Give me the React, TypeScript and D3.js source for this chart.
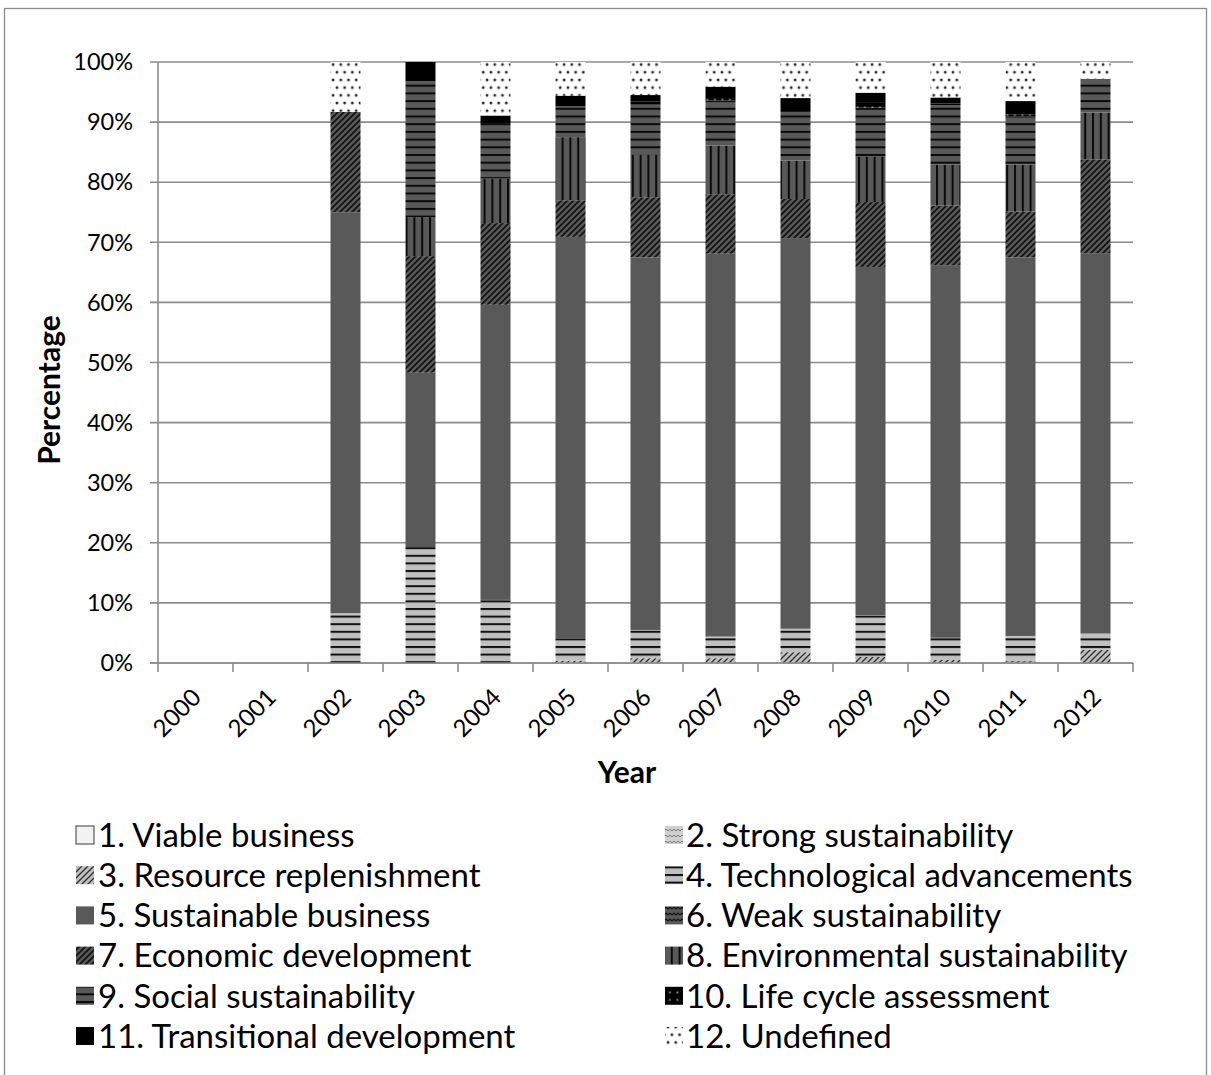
import React, { useEffect } from "react";
import * as d3 from "d3";

// Share of each sustainability definition per year (percent)
const years = ["2000", "2001", "2002", "2003", "2004", "2005", "2006", "2007", "2008", "2009", "2010", "2011", "2012"];

const viableBusiness = [0, 0, 0, 0, 0, 0, 0, 0, 0, 0, 0, 0, 0];
const strongSustainability = [0, 0, 0, 0, 0, 0, 0, 0, 0, 0, 0, 0, 0];
const resourceReplenishment = [0, 0, 0, 0, 0, 0.4, 0.8, 0.8, 1.8, 1.0, 0.5, 0.3, 2.2];
const technologicalAdvancements = [0, 0, 8.3, 19.3, 10.5, 3.6, 4.7, 3.6, 3.9, 6.9, 3.7, 4.2, 2.7];
const sustainableBusiness = [0, 0, 66.7, 29.0, 49.1, 66.9, 62.0, 63.7, 65.0, 58.0, 62.0, 63.0, 63.3];
const weakSustainability = [0, 0, 0, 0, 0, 0, 0, 0, 0, 0, 0, 0, 0];
const economicDevelopment = [0, 0, 16.7, 19.4, 13.6, 6.1, 10.0, 9.9, 6.5, 10.8, 9.9, 7.6, 15.6];
const environmentalSustainability = [0, 0, 0, 6.5, 7.4, 10.5, 7.1, 8.1, 6.4, 7.5, 6.8, 7.8, 7.8];
const socialSustainability = [0, 0, 0, 22.6, 9.1, 5.1, 8.3, 7.5, 8.1, 8.2, 9.9, 8.0, 5.6];
const lifeCycleAssessment = [0, 0, 0, 0, 0, 0, 0.5, 0.4, 0, 0.8, 0.3, 0.4, 0];
const transitionalDevelopment = [0, 0, 0, 3.2, 1.4, 1.8, 1.1, 1.9, 2.3, 1.7, 1.0, 2.2, 0];
const undefinedDefinition = [0, 0, 8.3, 0, 8.9, 5.6, 5.5, 4.1, 6.0, 5.1, 5.9, 6.5, 2.8];

const seriesNames = [
  "1. Viable business",
  "2. Strong sustainability",
  "3. Resource replenishment",
  "4. Technological advancements",
  "5. Sustainable business",
  "6. Weak sustainability",
  "7. Economic development",
  "8. Environmental sustainability",
  "9. Social sustainability",
  "10. Life cycle assessment",
  "11. Transitional development",
  "12. Undefined",
];

const seriesValues = [
  viableBusiness,
  strongSustainability,
  resourceReplenishment,
  technologicalAdvancements,
  sustainableBusiness,
  weakSustainability,
  economicDevelopment,
  environmentalSustainability,
  socialSustainability,
  lifeCycleAssessment,
  transitionalDevelopment,
  undefinedDefinition,
];

const yTicks = [0, 10, 20, 30, 40, 50, 60, 70, 80, 90, 100];

const FONT = "Lato, 'Open Sans', sans-serif";
const GRID = "#8c8c8c";

const fills = [
  "#f2f2f2",
  "url(#p-strong)",
  "url(#p-resource)",
  "url(#p-tech)",
  "#595959",
  "url(#p-weak)",
  "url(#p-econ)",
  "url(#p-env)",
  "url(#p-social)",
  "url(#p-lca)",
  "#000000",
  "url(#p-undef)",
];

export default function App() {
  useEffect(() => {
    document.body.style.margin = "0";
  }, []);

  const width = 1211;
  const height = 1075;
  const x0 = 158;
  const x1 = 1133;
  const yTop = 62;
  const yBottom = 663;

  const table = years.map((yr, i) => {
    const row: Record<string, number | string> = { year: yr };
    seriesNames.forEach((n, k) => (row[n] = seriesValues[k][i]));
    return row;
  });

  const stack = d3.stack<any>().keys(seriesNames);
  const stacked = stack(table as any);

  const x = d3.scaleBand<string>().domain(years).range([x0, x1]).paddingInner(0.6).paddingOuter(0.3);
  const y = d3.scaleLinear().domain([0, 100]).range([yBottom, yTop]);
  const step = x.step();

  const legendLeft = seriesNames.filter((_, i) => i % 2 === 0);
  const legendRight = seriesNames.filter((_, i) => i % 2 === 1);

  return (
    <svg width={width} height={height} style={{ display: "block" }} fontFamily={FONT}>
      <defs>
        <pattern id="p-tech" patternUnits="userSpaceOnUse" width="8" height="7.6">
          <rect width="8" height="7.6" fill="#c0c0c0" />
          <rect y="0" width="8" height="2" fill="#111" />
        </pattern>
        <pattern id="p-social" patternUnits="userSpaceOnUse" width="8" height="7.7">
          <rect width="8" height="7.7" fill="#595959" />
          <rect y="0" width="8" height="2" fill="#0a0a0a" />
        </pattern>
        <pattern id="p-env" patternUnits="userSpaceOnUse" width="7.8" height="8">
          <rect width="7.8" height="8" fill="#595959" />
          <rect x="0" width="2" height="8" fill="#0a0a0a" />
        </pattern>
        <pattern id="p-econ" patternUnits="userSpaceOnUse" width="6" height="6">
          <rect width="6" height="6" fill="#595959" />
          <path d="M0,6 L6,0 M-1,1 L1,-1 M5,7 L7,5" stroke="#111" strokeWidth="1.7" />
        </pattern>
        <pattern id="p-resource" patternUnits="userSpaceOnUse" width="6" height="6">
          <rect width="6" height="6" fill="#c0c0c0" />
          <path d="M0,6 L6,0 M-1,1 L1,-1 M5,7 L7,5" stroke="#333" strokeWidth="1.4" />
        </pattern>
        <pattern id="p-strong" patternUnits="userSpaceOnUse" width="8" height="6">
          <rect width="8" height="6" fill="#d0d0d0" />
          <path d="M0,3 L2,1 L4,3 L6,1 L8,3" fill="none" stroke="#7a7a7a" strokeWidth="1" />
        </pattern>
        <pattern id="p-weak" patternUnits="userSpaceOnUse" width="8" height="6">
          <rect width="8" height="6" fill="#595959" />
          <path d="M0,3 L2,1 L4,3 L6,1 L8,3" fill="none" stroke="#111" strokeWidth="1.2" />
        </pattern>
        <pattern id="p-lca" patternUnits="userSpaceOnUse" width="7.5" height="7.5">
          <rect width="7.5" height="7.5" fill="#000" />
          <rect x="1.5" y="1.5" width="1.8" height="1.8" fill="#9a9a9a" />
        </pattern>
        <pattern id="p-undef" patternUnits="userSpaceOnUse" width="7.7" height="15.4">
          <rect width="7.7" height="15.4" fill="#fff" />
          <circle cx="2" cy="3" r="1.45" fill="#2a2a2a" />
          <circle cx="5.85" cy="10.7" r="1.45" fill="#2a2a2a" />
        </pattern>
      </defs>

      {/* outer frame */}
      <rect x={4.5} y={8.5} width={1202} height={1080} fill="none" stroke="#8c8c8c" strokeWidth={1.3} />

      {/* horizontal gridlines and y tick labels */}
      {yTicks.map((t) => (
        <g key={t}>
          <line x1={x0 - 8} x2={x1} y1={y(t)} y2={y(t)} stroke={GRID} strokeWidth={1.6} />
          <text x={133} y={y(t)} dy="0.35em" textAnchor="end" fontSize={23.5} fill="#000">
            {t}%
          </text>
        </g>
      ))}

      {/* stacked bars */}
      {stacked.map((layer, k) => (
        <g key={layer.key} fill={fills[k]}>
          {layer.map((d, i) => {
            const h = y(d[0]) - y(d[1]);
            if (h <= 0) return null;
            return <rect key={i} x={x(years[i])} y={y(d[1])} width={x.bandwidth()} height={h} />;
          })}
        </g>
      ))}

      {/* axes */}
      <line x1={x0} x2={x0} y1={yTop} y2={yBottom} stroke={GRID} strokeWidth={1.6} />
      <line x1={x0 - 8} x2={x1} y1={yBottom} y2={yBottom} stroke={GRID} strokeWidth={1.6} />
      {d3.range(years.length + 1).map((i) => (
        <line key={i} x1={x0 + i * step} x2={x0 + i * step} y1={yBottom} y2={yBottom + 9} stroke={GRID} strokeWidth={1.6} />
      ))}

      {/* x tick labels */}
      {years.map((yr) => {
        const cx = (x(yr) as number) + x.bandwidth() / 2;
        return (
          <text
            key={yr}
            transform={`translate(${cx + 7},${699}) rotate(-45)`}
            textAnchor="end"
            fontSize={24}
            fill="#000"
          >
            {yr}
          </text>
        );
      })}

      {/* axis titles */}
      <text x={627} y={783} textAnchor="middle" fontSize={30} fontWeight="bold">
        Year
      </text>
      <text transform={`translate(60,390) rotate(-90)`} textAnchor="middle" fontSize={30} fontWeight="bold">
        Percentage
      </text>

      {/* legend */}
      {[legendLeft, legendRight].map((col, c) =>
        col.map((name, r) => {
          const idx = c === 0 ? r * 2 : r * 2 + 1;
          const mx = c === 0 ? 76 : 665;
          const tx = c === 0 ? 98 : 686;
          const cy = 835 + r * 40.2;
          return (
            <g key={name}>
              <rect
                x={mx}
                y={cy - 9}
                width={18}
                height={18}
                fill={fills[idx]}
                stroke={idx === 0 ? "#595959" : "none"}
                strokeWidth={1.2}
              />
              <text x={tx} y={cy} dy="0.36em" fontSize={33} fill="#000">
                {name}
              </text>
            </g>
          );
        })
      )}
    </svg>
  );
}
